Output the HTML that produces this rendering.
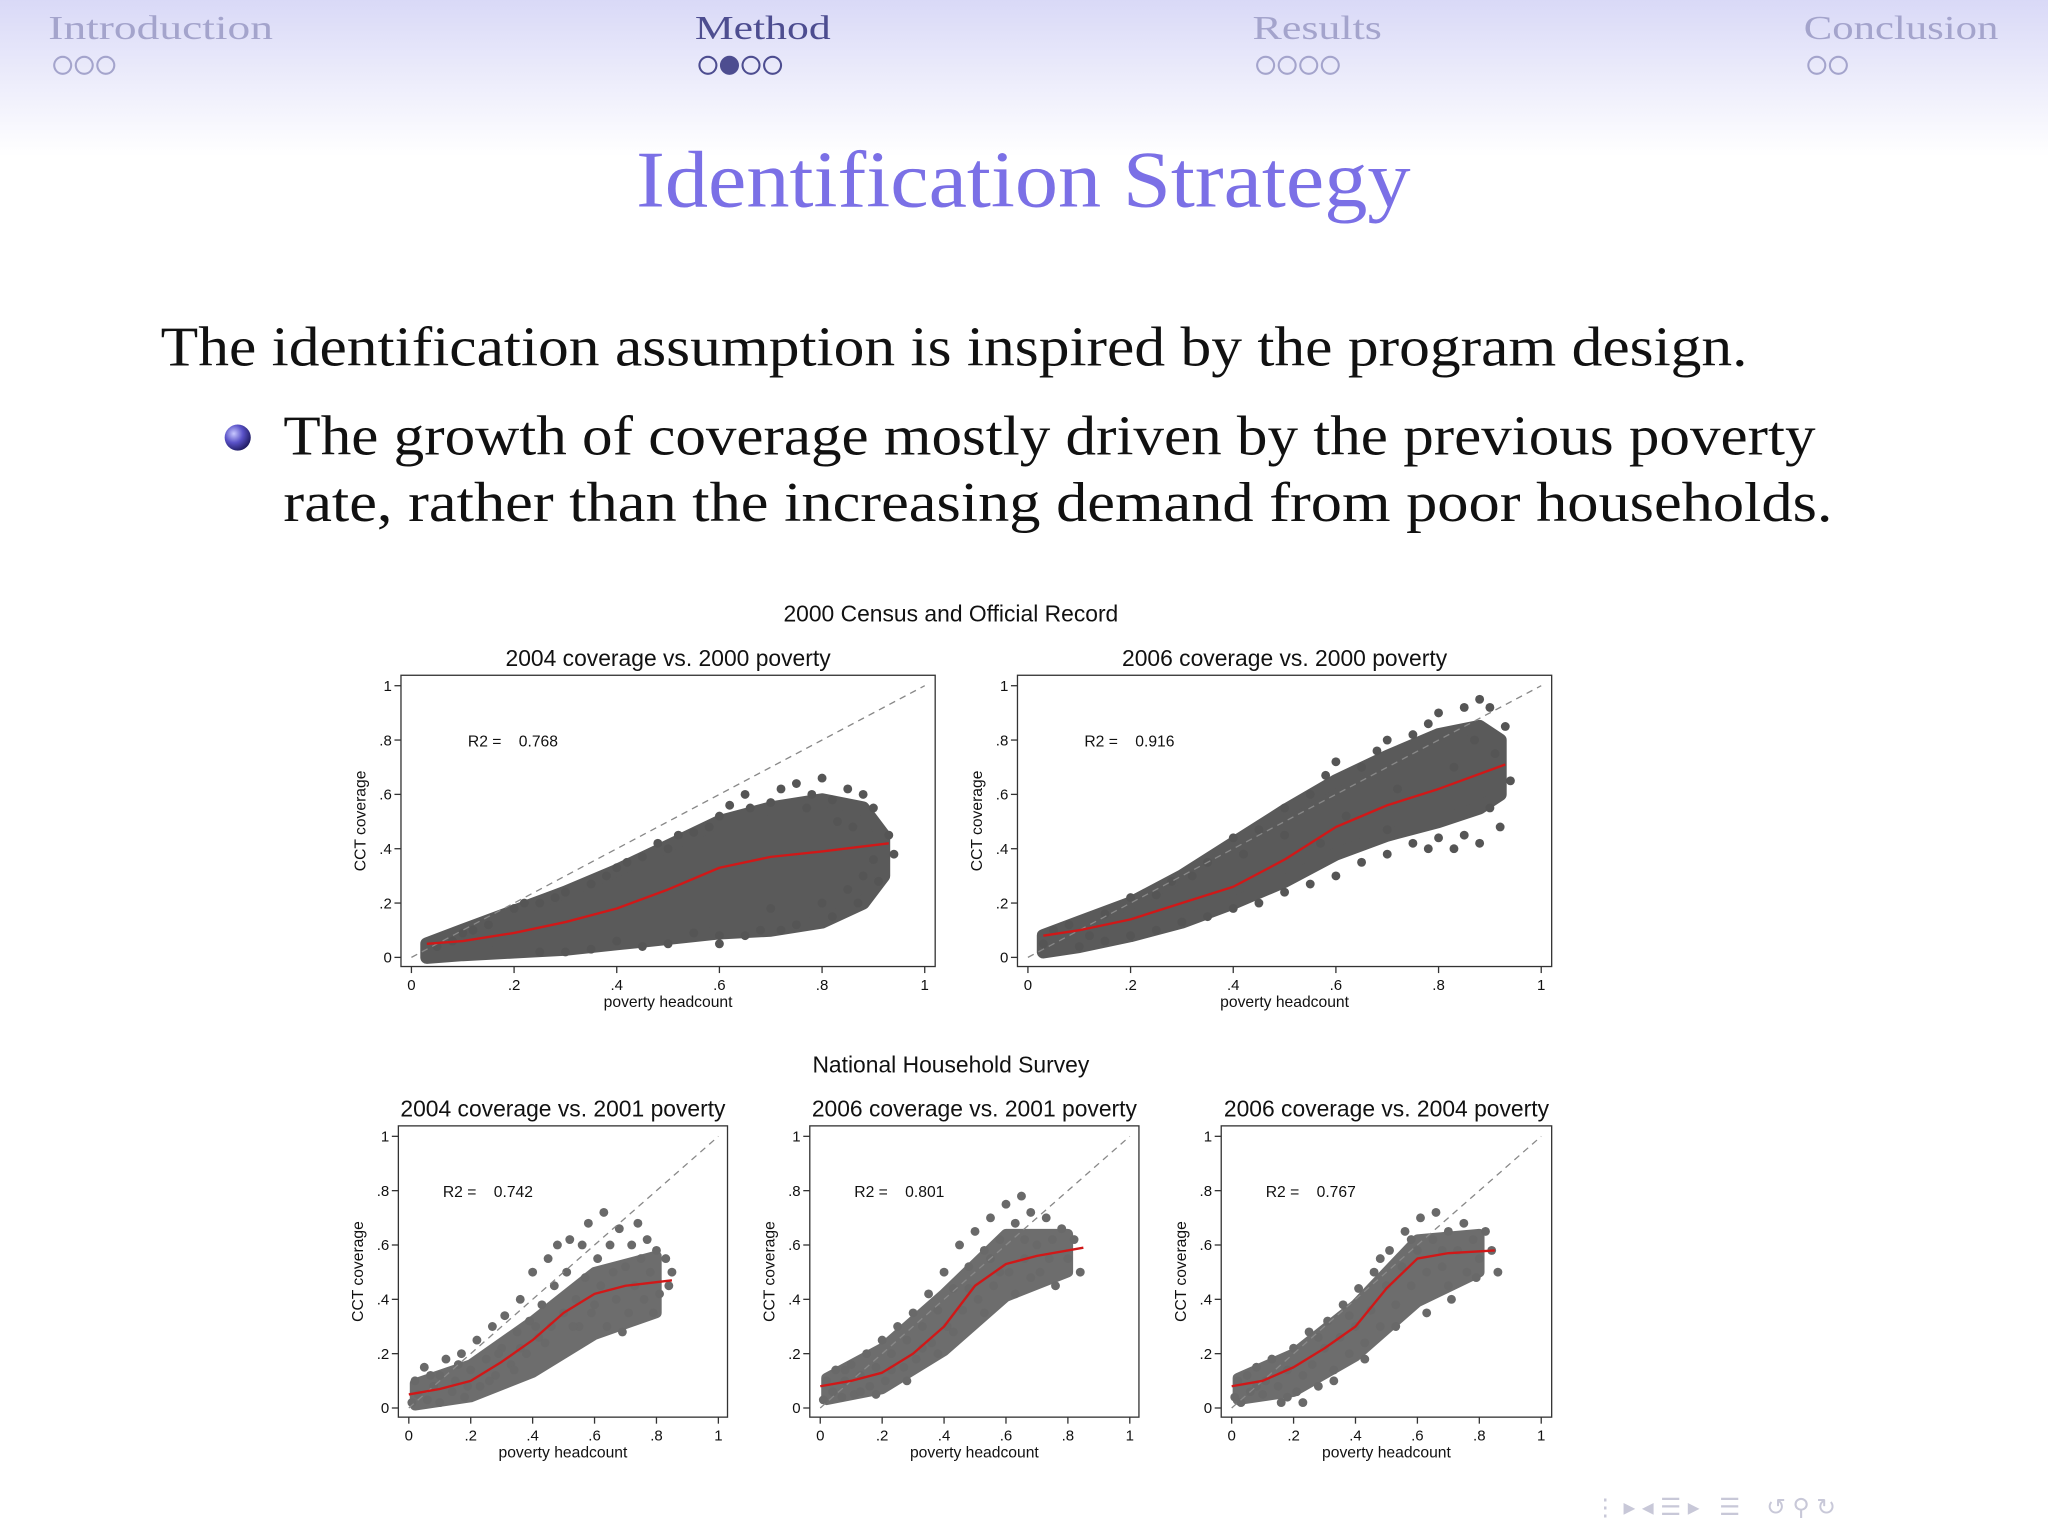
<!DOCTYPE html>
<html><head><meta charset="utf-8">
<style>
html,body{margin:0;padding:0;background:#fff;}
svg{display:block;}
.serif{font-family:"Liberation Serif",serif;}
.sans{font-family:"Liberation Sans",sans-serif;}
.pre{white-space:pre;}
</style></head>
<body>
<svg id="slide" width="2048" height="1536" viewBox="0 0 1568 1176" xmlns="http://www.w3.org/2000/svg">
<defs>
<linearGradient id="hdr" x1="0" y1="0" x2="0" y2="1">
<stop offset="0" stop-color="#d9d9f7"/><stop offset="1" stop-color="#ffffff"/>
</linearGradient>
<radialGradient id="ball" cx="0.35" cy="0.35" r="0.7">
<stop offset="0" stop-color="#c8c8ff"/><stop offset="0.5" stop-color="#5a52c8"/><stop offset="1" stop-color="#1e1a60"/>
</radialGradient>
</defs>
<rect x="0" y="0" width="1568" height="120" fill="url(#hdr)"/>
<g class="serif" font-size="26">
<text x="37" y="30" fill="#a4a4cc" textLength="172" lengthAdjust="spacingAndGlyphs">Introduction</text>
<text x="532" y="30" fill="#4d4d90" textLength="104" lengthAdjust="spacingAndGlyphs">Method</text>
<text x="959" y="30" fill="#a4a4cc" textLength="99" lengthAdjust="spacingAndGlyphs">Results</text>
<text x="1381" y="30" fill="#a4a4cc" textLength="149" lengthAdjust="spacingAndGlyphs">Conclusion</text>
</g>
<g id="navdots" fill="none" stroke-width="1.6"></g>
<text x="487" y="158" class="serif" font-size="62" fill="#7b70e6" textLength="593" lengthAdjust="spacingAndGlyphs">Identification Strategy</text>
<text x="123" y="280" class="serif" font-size="43" fill="#111" textLength="1215" lengthAdjust="spacingAndGlyphs">The identification assumption is inspired by the program design.</text>
<circle cx="182" cy="335" r="10" fill="url(#ball)"/>
<text x="217" y="348" class="serif" font-size="43" fill="#111" textLength="1173" lengthAdjust="spacingAndGlyphs">The growth of coverage mostly driven by the previous poverty</text>
<text x="217" y="399" class="serif" font-size="43" fill="#111" textLength="1186" lengthAdjust="spacingAndGlyphs">rate, rather than the increasing demand from poor households.</text>
<g class="sans" fill="#111">
<text x="728" y="476" text-anchor="middle" font-size="17.5">2000 Census and Official Record</text>
<text x="728" y="821" text-anchor="middle" font-size="17.5">National Household Survey</text>
</g>
<g id="charts"></g>
<g fill="#c8c8d8" class="sans" font-size="18">
<text x="1220" y="1160">⋮ ▸ ◂ ☰ ▸ &#160; ☰ &#160;&#160; ↺ ⚲ ↻</text>
</g>
</svg>
<script>
// ---- data ----
const p1LoX=[0.03,0.1,0.2,0.3,0.4,0.5,0.6,0.7,0.8,0.88,0.92];
const p1Lo=[0.0,0.01,0.02,0.03,0.05,0.07,0.09,0.1,0.13,0.2,0.3];
const p1Hi=[0.05,0.1,0.17,0.24,0.32,0.41,0.5,0.55,0.58,0.55,0.45];
const p2LoX=[0.03,0.1,0.2,0.3,0.4,0.5,0.6,0.7,0.8,0.88,0.92];
const p2Lo=[0.02,0.04,0.08,0.13,0.2,0.28,0.38,0.45,0.5,0.55,0.6];
const p2Hi=[0.08,0.13,0.2,0.3,0.42,0.54,0.65,0.74,0.82,0.85,0.8];
const pALoX=[0.02,0.2,0.4,0.6,0.8];
const pALo=[0.01,0.04,0.13,0.27,0.35];
const pAHi=[0.09,0.16,0.32,0.5,0.56];
const pBLoX=[0.02,0.2,0.4,0.6,0.8];
const pBLo=[0.03,0.07,0.21,0.41,0.5];
const pBHi=[0.11,0.22,0.42,0.64,0.64];
const pCLoX=[0.02,0.2,0.4,0.6,0.8];
const pCLo=[0.03,0.06,0.19,0.39,0.5];
const pCHi=[0.11,0.2,0.38,0.62,0.64];

const p1X=[.05,.1,.15,.2,.25,.3,.35,.4,.45,.48,.5,.55,.6,.62,.65,.7,.72,.75,.78,.8,.82,.85,.88,.9,.93,.9,.88,.85,.82,.8,.75,.7,.68,.6,.55,.5,.45,.4,.35,.3,.25,.6,.65,.72,.87,.91,.94,.86,.83,.77,.66,.58,.52,.42,.38,.28,.22,.12,.08];
const p1Y=[.04,.09,.12,.18,.2,.24,.27,.33,.37,.42,.4,.46,.52,.56,.6,.57,.62,.64,.6,.66,.58,.62,.6,.55,.45,.36,.3,.25,.15,.2,.12,.18,.1,.08,.09,.05,.04,.06,.03,.02,.02,.05,.08,.1,.2,.28,.38,.48,.5,.55,.55,.48,.45,.35,.3,.22,.2,.1,.06];
const p2X=[.03,.05,.08,.12,.15,.2,.25,.28,.32,.35,.4,.45,.5,.55,.58,.6,.65,.68,.7,.75,.78,.8,.85,.88,.9,.93,.91,.94,.9,.92,.88,.85,.83,.8,.78,.75,.7,.65,.6,.55,.5,.45,.4,.35,.3,.25,.2,.15,.1,.7,.62,.5,.42,.83,.87,.72,.57];
const p2Y=[.05,.1,.12,.08,.16,.22,.23,.28,.3,.35,.44,.47,.55,.6,.67,.72,.7,.76,.8,.82,.86,.9,.92,.95,.92,.85,.75,.65,.55,.48,.42,.45,.4,.44,.4,.42,.38,.35,.3,.27,.24,.2,.18,.15,.13,.1,.08,.06,.04,.47,.52,.45,.38,.7,.8,.62,.42];
const pAX=[.01,.02,.03,.05,.06,.08,.1,.1,.12,.14,.15,.17,.18,.2,.22,.23,.25,.27,.28,.3,.31,.33,.35,.36,.38,.39,.4,.42,.43,.45,.46,.47,.48,.5,.51,.52,.54,.55,.56,.57,.58,.6,.61,.62,.63,.64,.65,.66,.67,.68,.7,.71,.72,.73,.74,.75,.76,.77,.78,.8,.81,.83,.85,.84,.44,.34,.26,.16,.36,.53,.59,.69,.79,.41,.29,.19,.07];
const pAY=[.02,.1,.05,.15,.03,.08,.12,.02,.18,.06,.1,.2,.04,.14,.25,.08,.18,.3,.12,.22,.34,.16,.28,.4,.2,.32,.5,.26,.38,.55,.3,.45,.6,.35,.5,.62,.4,.3,.6,.48,.68,.38,.55,.45,.72,.3,.6,.5,.4,.66,.52,.35,.6,.45,.68,.55,.4,.62,.5,.58,.42,.55,.5,.45,.24,.14,.1,.16,.22,.3,.35,.28,.35,.3,.2,.08,.12];
const pBX=[.01,.02,.04,.05,.07,.08,.1,.11,.13,.15,.16,.18,.2,.21,.23,.25,.27,.28,.3,.31,.33,.35,.36,.38,.4,.41,.43,.45,.46,.48,.5,.51,.53,.55,.56,.58,.6,.61,.63,.65,.66,.68,.7,.71,.73,.75,.76,.78,.8,.82,.84,.63,.53,.43,.33,.23,.13,.48,.58,.68,.74,.38,.28,.18,.08,.55,.66];
const pBY=[.03,.1,.06,.14,.04,.1,.16,.05,.12,.2,.08,.15,.25,.1,.2,.3,.15,.25,.35,.18,.3,.42,.24,.36,.5,.3,.44,.6,.36,.52,.65,.4,.58,.7,.45,.62,.75,.5,.68,.78,.55,.72,.6,.5,.7,.62,.45,.66,.55,.62,.5,.42,.35,.28,.22,.14,.06,.44,.5,.48,.55,.2,.1,.05,.14,.55,.62];
const pCX=[.01,.02,.03,.05,.06,.08,.1,.11,.13,.15,.16,.18,.2,.21,.23,.25,.26,.28,.3,.31,.33,.35,.36,.38,.4,.41,.43,.45,.46,.48,.5,.51,.53,.55,.56,.58,.6,.61,.63,.65,.66,.68,.7,.71,.73,.75,.76,.78,.8,.82,.84,.86,.43,.33,.23,.53,.63,.48,.58,.68,.38,.28,.18,.08,.7,.79];
const pCY=[.04,.1,.02,.12,.06,.15,.05,.1,.18,.08,.02,.14,.22,.06,.12,.28,.16,.08,.22,.32,.14,.26,.38,.2,.3,.44,.24,.36,.5,.3,.45,.58,.38,.52,.65,.45,.58,.7,.5,.62,.72,.52,.65,.4,.58,.68,.5,.62,.55,.65,.58,.5,.18,.1,.02,.3,.35,.55,.62,.58,.34,.26,.04,.08,.45,.48];

const f1X=[.03,.1,.2,.3,.4,.5,.6,.7,.8,.93];
const f1Y=[.05,.06,.09,.13,.18,.25,.33,.37,.39,.42];
const f2X=[.03,.1,.2,.3,.4,.5,.6,.7,.8,.93];
const f2Y=[.08,.1,.14,.2,.26,.36,.48,.56,.62,.71];
const fAX=[0,.1,.2,.3,.4,.5,.6,.7,.85];
const fAY=[.05,.07,.1,.17,.25,.35,.42,.45,.47];
const fBX=[0,.1,.2,.3,.4,.5,.6,.7,.85];
const fBY=[.08,.1,.13,.2,.3,.45,.53,.56,.59];
const fCX=[0,.1,.2,.3,.4,.5,.6,.7,.85];
const fCY=[.08,.1,.15,.22,.3,.44,.55,.57,.58];

const tickVals=[0,0.2,0.4,0.6,0.8,1];
const tickLabels=["0",".2",".4",".6",".8","1"];
const panelTitles=["2004 coverage vs. 2000 poverty","2006 coverage vs. 2000 poverty","2004 coverage vs. 2001 poverty","2006 coverage vs. 2001 poverty","2006 coverage vs. 2004 poverty"];
const r2Values=["0.768","0.916","0.742","0.801","0.767"];

const NS="http://www.w3.org/2000/svg";
function mk(tag,attrs,parent){const e=document.createElementNS(NS,tag);for(const k in attrs)e.setAttribute(k,attrs[k]);if(parent)parent.appendChild(e);return e;}

const nd=document.getElementById('navdots');
const dotGroups=[[48,3,-1,'#a4a4cc'],[542,4,1,'#4d4d90'],[969,4,-1,'#a4a4cc'],[1391,2,-1,'#a4a4cc']];
dotGroups.forEach((g,gi)=>{for(let i=0;i<g[1];i++){const c=mk('circle',{cx:g[0]+i*16.5,cy:50,r:6.5,stroke:g[3],fill:i===g[2]?g[3]:'none'},nd);

}});

function panel(cfg){
  const g=mk('g',{},document.getElementById('charts'));
  
  
  const sx=v=>cfg.x0+(cfg.x1-cfg.x0)*v;
  const sy=v=>cfg.y0-(cfg.y0-cfg.y1)*v;
  const box=mk('rect',{x:cfg.bx0,y:cfg.by0,width:cfg.bx1-cfg.bx0,height:cfg.by1-cfg.by0,fill:'#fff',stroke:'#333','stroke-width':1},g);
  
  
  const t=mk('text',{x:(cfg.bx0+cfg.bx1)/2,y:cfg.by0-7,'text-anchor':'middle','font-size':17.5,'font-family':'Liberation Sans, sans-serif',fill:'#111'},g);
  t.textContent=cfg.title;
  
  
  const cg=mk('g',{opacity:cfg.big?1:0.88},g);
  
  
  let pts=cfg.ex.map((x,i)=>sx(x)+','+sy(cfg.hi[i])).join(' ')+' '+cfg.ex.slice().reverse().map((x,i)=>sx(x)+','+sy(cfg.lo[cfg.ex.length-1-i])).join(' ');
  const env=mk('polygon',{points:pts,fill:'#5a5a5a',stroke:'#5a5a5a','stroke-width':cfg.big?10:8,'stroke-linejoin':'round'},cg);
  
  
  cfg.px.forEach((x,i)=>{const c=mk('circle',{cx:sx(x),cy:sy(cfg.py[i]),r:3.4,fill:'#555'},cg);
    
    });
  const d=mk('line',{x1:sx(0),y1:sy(0),x2:sx(1),y2:sy(1),stroke:'#888','stroke-width':1,'stroke-dasharray':'5,4'},g);
  
  
  const fl=mk('polyline',{points:cfg.fx.map((x,i)=>sx(x)+','+sy(cfg.fy[i])).join(' '),fill:'none',stroke:'#d01818','stroke-width':1.8,'stroke-linejoin':'round'},g);
  
  
  tickVals.forEach((v,i)=>{
    mk('line',{x1:cfg.bx0-5,x2:cfg.bx0,y1:sy(v),y2:sy(v),stroke:'#333'},g);
    const yl=mk('text',{x:cfg.bx0-7,y:sy(v)+4,'text-anchor':'end','font-size':11.5,'font-family':'Liberation Sans, sans-serif',fill:'#111'},g);
    yl.textContent=tickLabels[i];
    
    
    mk('line',{x1:sx(v),x2:sx(v),y1:cfg.by1,y2:cfg.by1+5,stroke:'#333'},g);
    const xl=mk('text',{x:sx(v),y:cfg.by1+18,'text-anchor':'middle','font-size':11.5,'font-family':'Liberation Sans, sans-serif',fill:'#111'},g);
    xl.textContent=tickLabels[i];
    
    
  });
  const xt=mk('text',{x:(cfg.bx0+cfg.bx1)/2,y:cfg.by1+31,'text-anchor':'middle','font-size':12,'font-family':'Liberation Sans, sans-serif',fill:'#111'},g);
  xt.textContent='poverty headcount';
  
  
  const cy=(cfg.by0+cfg.by1)/2;
  const yt=mk('text',{x:cfg.bx0-27,y:cy,'text-anchor':'middle','font-size':12,'font-family':'Liberation Sans, sans-serif',fill:'#111',transform:'rotate(-90 '+(cfg.bx0-27)+' '+cy+')'},g);
  yt.textContent='CCT coverage';
  
  
  const r=mk('text',{x:sx(0.11),y:sy(0.8)+5,'font-size':12,'font-family':'Liberation Sans, sans-serif',fill:'#111','class':'pre'},g);
  r.textContent='R2 =    '+cfg.r2;
  
  
}
const topY={y0:733,y1:525,by0:517,by1:740};
const botY={y0:1078,y1:870,by0:862,by1:1085};
panel(Object.assign({x0:315,x1:708,bx0:307,bx1:716,big:true,title:panelTitles[0],r2:r2Values[0],ex:p1LoX,lo:p1Lo,hi:p1Hi,px:p1X,py:p1Y,fx:f1X,fy:f1Y},topY));
panel(Object.assign({x0:787,x1:1180,bx0:779,bx1:1188,big:true,title:panelTitles[1],r2:r2Values[1],ex:p2LoX,lo:p2Lo,hi:p2Hi,px:p2X,py:p2Y,fx:f2X,fy:f2Y},topY));
panel(Object.assign({x0:313,x1:550,bx0:305,bx1:557,title:panelTitles[2],r2:r2Values[2],ex:pALoX,lo:pALo,hi:pAHi,px:pAX,py:pAY,fx:fAX,fy:fAY},botY));
panel(Object.assign({x0:628,x1:865,bx0:620,bx1:872,title:panelTitles[3],r2:r2Values[3],ex:pBLoX,lo:pBLo,hi:pBHi,px:pBX,py:pBY,fx:fBX,fy:fBY},botY));
panel(Object.assign({x0:943,x1:1180,bx0:935,bx1:1188,title:panelTitles[4],r2:r2Values[4],ex:pCLoX,lo:pCLo,hi:pCHi,px:pCX,py:pCY,fx:fCX,fy:fCY},botY));
</script>
</body></html>
